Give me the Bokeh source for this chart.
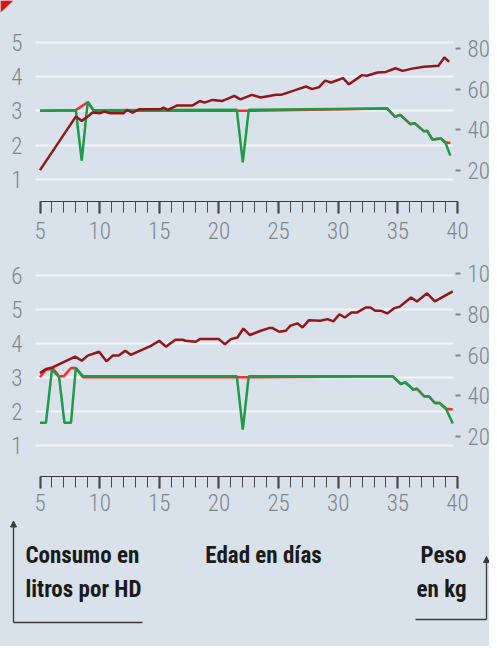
from bokeh.plotting import figure
from bokeh.models import Range1d, LinearAxis, FixedTicker, Arrow, NormalHead, Label, PolyAnnotation
from bokeh.layouts import column
from bokeh.embed import file_html
from bokeh.resources import INLINE

# ---------------- data ----------------
# Top chart
top_peso_dias = [5.0, 8.0, 8.5, 9.0, 9.4, 10.0, 10.4, 10.9, 12.0, 12.3, 12.75, 13.3, 15.1, 15.35, 15.7,
                 16.25, 16.5, 17.8, 18.4, 18.8, 19.45, 20.3, 21.3, 21.8, 22.75, 23.5, 24.8, 25.2, 26.4,
                 27.3, 27.8, 28.4, 28.9, 29.4, 30.4, 30.9, 32.0, 32.4, 33.3, 34.0, 34.8, 35.4, 36.2,
                 37.2, 38.4, 38.9, 39.3]
top_peso_kg = [20.2, 46.5, 44.4, 46.5, 48.5, 48.1, 49.0, 48.1, 48.1, 49.8, 48.5, 50.1, 50.1, 51.0, 49.8,
               51.3, 52.0, 52.0, 54.2, 53.4, 54.7, 54.2, 56.7, 55.0, 57.2, 55.9, 57.2, 57.2, 59.5,
               61.3, 60.0, 61.0, 64.2, 63.3, 65.4, 62.4, 66.9, 66.6, 68.2, 68.5, 70.3, 69.0, 70.1,
               71.0, 71.5, 75.6, 73.4]

top_real_dias = [5.0, 8.0, 8.5, 9.0, 9.5, 21.5, 22.0, 22.5, 34.1, 34.75, 35.2, 36.05, 36.4, 37.2,
                 37.45, 37.9, 38.6, 39.0, 39.4]
top_real_l = [3.0, 3.02, 1.54, 3.27, 3.02, 3.03, 1.49, 3.03, 3.07, 2.83, 2.88, 2.61, 2.64, 2.40,
              2.42, 2.16, 2.19, 2.06, 1.69]

top_ref_dias = [5.0, 8.0, 9.0, 9.5, 21.5, 22.5, 34.1, 34.75, 35.2, 36.05, 36.4, 37.2, 37.45, 37.9,
                38.6, 39.0, 39.4]
top_ref_l = [3.0, 3.02, 3.25, 3.0, 3.0, 3.0, 3.07, 2.83, 2.88, 2.61, 2.64, 2.40, 2.42, 2.16,
             2.19, 2.08, 2.06]

# Bottom chart
bot_peso_dias = [5.0, 5.5, 6.05, 7.95, 8.5, 9.0, 9.96, 10.57, 11.1, 11.6, 12.15, 12.6, 14.3, 15.0,
                 15.55, 16.35, 16.95, 17.2, 18.05, 18.4, 20.0, 20.5, 21.0, 21.55, 22.05, 22.6, 23.5,
                 24.2, 24.5, 25.05, 25.6, 26.0, 26.6, 27.0, 27.55, 28.5, 29.1, 29.6, 30.1, 30.55,
                 31.1, 31.6, 32.3, 32.7, 33.1, 33.6, 34.1, 34.7, 35.15, 36.1, 36.6, 37.45, 38.1, 39.6]
bot_peso_kg = [51.1, 53.1, 53.9, 59.2, 57.2, 59.7, 61.6, 56.9, 59.7, 59.7, 62.1, 60.1, 64.5, 67.0,
               64.1, 67.5, 67.5, 67.0, 66.5, 67.8, 67.8, 65.3, 67.8, 68.6, 73.0, 69.8, 71.9,
               73.2, 73.2, 71.4, 71.9, 74.4, 75.5, 73.5, 77.1, 76.8, 77.6, 76.5, 80.0, 78.4,
               80.9, 80.9, 83.3, 83.3, 81.7, 81.7, 80.4, 83.0, 83.7, 88.2, 86.3, 90.3, 86.3, 91.2]

bot_real_dias = [5.0, 5.5, 6.0, 6.6, 7.05, 7.6, 8.0, 8.6, 21.5, 22.0, 22.5, 34.55, 35.25, 35.6,
                 36.3, 36.6, 37.2, 37.6, 38.1, 38.5, 39.0, 39.6]
bot_real_l = [1.66, 1.66, 3.22, 3.0, 1.66, 1.66, 3.27, 3.03, 3.03, 1.46, 3.03, 3.03, 2.80, 2.85,
              2.64, 2.66, 2.44, 2.44, 2.24, 2.24, 2.10, 1.64]

bot_ref_dias = [5.0, 5.5, 6.1, 6.6, 7.0, 7.6, 8.0, 8.6, 21.5, 22.5, 34.55, 35.25, 35.6, 36.3,
                36.6, 37.2, 37.6, 38.1, 38.5, 39.0, 39.6]
bot_ref_l = [3.0, 3.22, 3.25, 3.03, 3.03, 3.27, 3.27, 3.0, 3.0, 3.0, 3.03, 2.80, 2.85, 2.64,
             2.66, 2.44, 2.44, 2.24, 2.24, 2.07, 2.05]

x_ticks = [5, 10, 15, 20, 25, 30, 35, 40]
x_minor = list(range(5, 41))
top_left_ticks = [1, 2, 3, 4, 5]
top_right_ticks = [20, 40, 60, 80]
bot_left_ticks = [1, 2, 3, 4, 5, 6]
bot_right_ticks = [20, 40, 60, 80, 100]

# ---------------- style / geometry ----------------
BG = "#d9e2ea"
GRID = "#f3f6f8"
TICKC = "#80868c"
DARKRED = "#931619"
RED = "#ff2b2b"
GREEN = "#1f9a48"
TICK_FONT = "Roboto Condensed Light"
BOLD_FONT = "Roboto Condensed"
W = 489
PAGE_X0, PAGE_X1 = 8, 497          # page pixels covered by every figure
K = (465 - 47.5) / 35.0            # px per day
def day_at(px):
    return 5 + (px - 47.5) / K
X0, X1 = day_at(PAGE_X0), day_at(PAGE_X1)
LEFT_AX = day_at(43)               # where the left labels hang
RIGHT_AX = day_at(463)             # where the right ticks start
GRID_END = day_at(461)


def chart(height, yr, kr, x_axis_at, lticks, rticks, peso, real, ref, xstand):
    p = figure(width=W, height=height, x_range=Range1d(X0, X1), y_range=Range1d(*yr),
               output_backend="svg", toolbar_location=None, min_border=0,
               background_fill_color=BG, border_fill_color=BG, outline_line_color=None)
    p.extra_y_ranges = {"kg": Range1d(*kr)}
    # left axis
    ya = p.yaxis[0]
    ya.fixed_location = LEFT_AX
    ya.ticker = FixedTicker(ticks=lticks)
    ya.axis_line_color = None
    ya.major_tick_line_color = None
    ya.major_tick_in = 0
    ya.major_tick_out = 0
    ya.minor_tick_line_color = None
    ya.major_label_standoff = 13
    ya.major_label_text_font = TICK_FONT
    ya.major_label_text_font_size = "23px"
    ya.major_label_text_color = TICKC
    # right axis
    ra = LinearAxis(y_range_name="kg", ticker=FixedTicker(ticks=rticks), fixed_location=RIGHT_AX)
    ra.axis_line_color = None
    ra.major_tick_in = 0
    ra.major_tick_out = 5
    ra.major_tick_line_color = TICKC
    ra.major_tick_line_width = 2
    ra.minor_tick_line_color = None
    ra.major_label_standoff = 7
    ra.major_label_text_font = TICK_FONT
    ra.major_label_text_font_size = "23px"
    ra.major_label_text_color = TICKC
    p.add_layout(ra, "right")
    # bottom axis
    xa = p.xaxis[0]
    xa.fixed_location = x_axis_at
    xa.ticker = FixedTicker(ticks=x_ticks, minor_ticks=x_minor)
    xa.bounds = (5, 40)
    xa.axis_line_color = "#3a3a3a"
    xa.axis_line_width = 1.2
    xa.major_tick_in = 0
    xa.major_tick_out = 12
    xa.major_tick_line_width = 2
    xa.major_tick_line_color = "#2a2a2a"
    xa.minor_tick_in = 0
    xa.minor_tick_out = 11
    xa.minor_tick_line_width = 1
    xa.minor_tick_line_color = "#4a4a4a"
    xa.major_label_standoff = xstand
    xa.major_label_text_font = TICK_FONT
    xa.major_label_text_font_size = "23px"
    xa.major_label_text_color = TICKC
    # grid
    p.xgrid.grid_line_color = None
    p.ygrid.grid_line_color = GRID
    p.ygrid.grid_line_width = 2
    p.ygrid.cross_bounds = (LEFT_AX, GRID_END)
    # lines
    p.line(ref[0], ref[1], line_color=RED, line_width=2.5)
    p.line(real[0], real[1], line_color=GREEN, line_width=2.5)
    p.line(peso[0], peso[1], line_color=DARKRED, line_width=2.5, y_range_name="kg")
    return p


def strip(height, ytop, ybot):
    # ranges in page pixels
    s = figure(width=W, height=height, x_range=Range1d(PAGE_X0, PAGE_X1), y_range=Range1d(ybot, ytop),
               output_backend="svg", toolbar_location=None, x_axis_type=None, y_axis_type=None,
               min_border=0, background_fill_color=BG, border_fill_color=BG, outline_line_color=None)
    s.grid.visible = False
    return s


# top strip with red corner mark (page y 8..22)
p0 = strip(14, 8, 22)
p0.add_layout(PolyAnnotation(xs=[8, 21, 8], ys=[8, 8, 20], fill_color="#e3120b", fill_alpha=1,
                             line_color=None))

# top chart: page y 22..262 ; left value 3 at y=118.35, 34.17 px/unit ; 80 kg at y=56, 2.033 px/kg
def v_top(y): return 3 - (y - 118.35) / 34.17
def kg_top(y): return 80 - (y - 56) / 2.033
p1 = chart(240, (v_top(262), v_top(22)), (kg_top(262), kg_top(22)), v_top(209),
           top_left_ticks, top_right_ticks,
           (top_peso_dias, top_peso_kg), (top_real_dias, top_real_l), (top_ref_dias, top_ref_l), 8)

# bottom chart: page y 262..528 ; value 1 at y=452.7, 34 px/unit ; 100 kg at y=281, 2.0375 px/kg
def v_bot(y): return 1 - (y - 452.7) / 34.0
def kg_bot(y): return 100 - (y - 281) / 2.0375
p2 = chart(266, (v_bot(528), v_bot(262)), (kg_bot(528), kg_bot(262)), v_bot(484),
           bot_left_ticks, bot_right_ticks,
           (bot_peso_dias, bot_peso_kg), (bot_real_dias, bot_real_l), (bot_ref_dias, bot_ref_l), 5)

# bottom strip with axis titles (page y 528..654)
p3 = strip(126, 528, 654)
lab = dict(text_font=BOLD_FONT, text_font_style="bold", text_font_size="23px",
           text_color="#1a1a1a", text_baseline="middle")
p3.add_layout(Label(x=33, y=563, text="Consumo en", text_align="left", **lab))
p3.add_layout(Label(x=33, y=597, text="litros por HD", text_align="left", **lab))
p3.add_layout(Label(x=271, y=563, text="Edad en días", text_align="center", **lab))
p3.add_layout(Label(x=451, y=563, text="Peso", text_align="center", **lab))
p3.add_layout(Label(x=449, y=597, text="en kg", text_align="center", **lab))
AC = "#3a3a3a"
p3.add_layout(Arrow(x_start=21, y_start=630, x_end=21, y_end=528.5, line_color=AC, line_width=1.3,
                    end=NormalHead(size=6, fill_color=AC, line_color=AC)))
p3.add_layout(Arrow(x_start=21, y_start=630, x_end=150, y_end=630, line_color=AC, line_width=1.3,
                    end=None))
p3.add_layout(Arrow(x_start=494, y_start=627, x_end=494, y_end=564, line_color=AC, line_width=1.3,
                    end=NormalHead(size=6, fill_color=AC, line_color=AC)))
p3.add_layout(Arrow(x_start=423, y_start=627, x_end=494, y_end=627, line_color=AC, line_width=1.3,
                    end=None))

layout = column(p0, p1, p2, p3, spacing=0, styles={"background-color": BG})
open("out.html", "w").write(file_html(layout, INLINE))
